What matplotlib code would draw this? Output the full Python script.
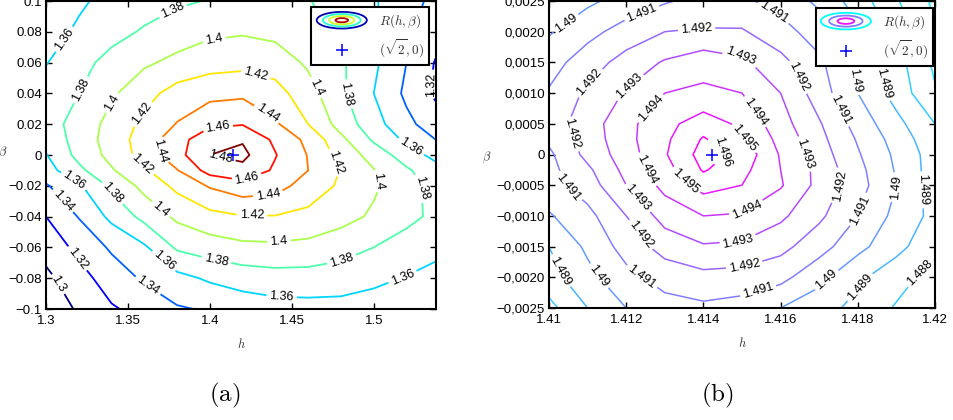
import matplotlib
matplotlib.use('Agg')
import matplotlib.pyplot as plt
import numpy as np
from matplotlib.colors import Normalize
from matplotlib.legend_handler import HandlerBase
from matplotlib.lines import Line2D
from matplotlib.patches import Ellipse

plt.rcParams['font.family'] = ['Liberation Sans', 'DejaVu Sans']
plt.rcParams['mathtext.fontset'] = 'cm'

# ---- panel (a): R(h, beta) on a coarse grid ----
h_a = [1.30, 1.32, 1.34, 1.36, 1.38, 1.40, 1.42, 1.44, 1.46, 1.48, 1.50, 1.52, 1.54]
beta_a = [0.10, 0.08, 0.06, 0.04, 0.02, 0.01, 0.0, -0.01, -0.02, -0.04, -0.06, -0.08, -0.10]
R_a = [
    [1.346, 1.357, 1.366, 1.372, 1.377, 1.381, 1.383, 1.383, 1.381, 1.372, 1.362, 1.348, 1.333],
    [1.352, 1.363, 1.374, 1.382, 1.390, 1.396, 1.398, 1.395, 1.387, 1.375, 1.362, 1.344, 1.326],
    [1.359, 1.374, 1.386, 1.397, 1.405, 1.412, 1.414, 1.410, 1.397, 1.383, 1.364, 1.340, 1.316],
    [1.368, 1.380, 1.397, 1.413, 1.428, 1.434, 1.436, 1.428, 1.408, 1.384, 1.360, 1.336, 1.314],
    [1.372, 1.387, 1.407, 1.425, 1.441, 1.456, 1.459, 1.443, 1.420, 1.392, 1.368, 1.345, 1.328],
    [1.366, 1.388, 1.409, 1.429, 1.452, 1.474, 1.478, 1.456, 1.435, 1.405, 1.377, 1.356, 1.338],
    [1.359, 1.386, 1.406, 1.428, 1.453, 1.480, 1.485, 1.461, 1.439, 1.413, 1.392, 1.370, 1.352],
    [1.352, 1.375, 1.398, 1.417, 1.439, 1.468, 1.474, 1.457, 1.440, 1.419, 1.401, 1.383, 1.366],
    [1.338, 1.357, 1.384, 1.406, 1.425, 1.442, 1.452, 1.448, 1.431, 1.417, 1.403, 1.387, 1.372],
    [1.320, 1.341, 1.365, 1.386, 1.404, 1.414, 1.419, 1.419, 1.415, 1.407, 1.397, 1.385, 1.375],
    [1.308, 1.325, 1.343, 1.357, 1.383, 1.390, 1.395, 1.396, 1.394, 1.388, 1.380, 1.372, 1.364],
    [1.295, 1.313, 1.329, 1.343, 1.354, 1.363, 1.369, 1.372, 1.372, 1.370, 1.364, 1.359, 1.354],
    [1.290, 1.302, 1.318, 1.326, 1.338, 1.342, 1.348, 1.352, 1.353, 1.353, 1.352, 1.350, 1.348],
]
levels_a = [1.30, 1.32, 1.34, 1.36, 1.38, 1.40, 1.42, 1.44, 1.46, 1.48]
xticks_a = [1.3, 1.35, 1.4, 1.45, 1.5]
xticklabels_a = ['1.3', '1.35', '1.4', '1.45', '1.5']
yticks_a = [-0.1, -0.08, -0.06, -0.04, -0.02, 0, 0.02, 0.04, 0.06, 0.08, 0.1]
yticklabels_a = ['\u22120.1', '\u22120.08', '\u22120.06', '\u22120.04', '\u22120.02', '0',
                 '0.02', '0.04', '0.06', '0.08', '0.1']

# ---- panel (b): zoom near the maximum ----
h_b = [1.410, 1.411, 1.412, 1.413, 1.414, 1.415, 1.416, 1.417, 1.418, 1.419, 1.420]
beta_b = [0.0025, 0.0020, 0.0015, 0.0010, 0.0005, 0.00025, 0.0, -0.00025,
          -0.0005, -0.0010, -0.0015, -0.0020, -0.0025]
R_b = [
    [1.4892, 1.4898, 1.4904, 1.4909, 1.4913, 1.4912, 1.4906, 1.4898, 1.4885, 1.4871, 1.4858],
    [1.4899, 1.4907, 1.4914, 1.4920, 1.4921, 1.4921, 1.4914, 1.4905, 1.4892, 1.4877, 1.4860],
    [1.4906, 1.4915, 1.4924, 1.4931, 1.4936, 1.4932, 1.4923, 1.4912, 1.4898, 1.4884, 1.4868],
    [1.4911, 1.4922, 1.4931, 1.4940, 1.4942, 1.4940, 1.4930, 1.4915, 1.4900, 1.4886, 1.4871],
    [1.4915, 1.4925, 1.4937, 1.4947, 1.4955, 1.4948, 1.4934, 1.4921, 1.4906, 1.4893, 1.4880],
    [1.4912, 1.4924, 1.4937, 1.4948, 1.4961, 1.4951, 1.4937, 1.4923, 1.4909, 1.4896, 1.4883],
    [1.4908, 1.4923, 1.4935, 1.4949, 1.4964, 1.4957, 1.4939, 1.4925, 1.4911, 1.4898, 1.4885],
    [1.4907, 1.4918, 1.4933, 1.4946, 1.4961, 1.4953, 1.4940, 1.4927, 1.4913, 1.4899, 1.4885],
    [1.4906, 1.4915, 1.4930, 1.4943, 1.4954, 1.4950, 1.4941, 1.4927, 1.4914, 1.4900, 1.4885],
    [1.4899, 1.4907, 1.4920, 1.4934, 1.4940, 1.4939, 1.4932, 1.4922, 1.4910, 1.4897, 1.4887],
    [1.4890, 1.4902, 1.4914, 1.4924, 1.4929, 1.4928, 1.4923, 1.4914, 1.4903, 1.4893, 1.4883],
    [1.4886, 1.4897, 1.4907, 1.4914, 1.4917, 1.4916, 1.4913, 1.4903, 1.4892, 1.4884, 1.4876],
    [1.4877, 1.4890, 1.4900, 1.4906, 1.4908, 1.4906, 1.4900, 1.4894, 1.4887, 1.4879, 1.4870],
]
levels_b = [1.486, 1.487, 1.488, 1.489, 1.490, 1.491, 1.492, 1.493, 1.494, 1.495, 1.496]
xticks_b = [1.41, 1.412, 1.414, 1.416, 1.418, 1.42]
xticklabels_b = ['1.41', '1.412', '1.414', '1.416', '1.418', '1.42']
yticks_b = [-0.0025, -0.002, -0.0015, -0.001, -0.0005, 0, 0.0005, 0.001, 0.0015, 0.002, 0.0025]
yticklabels_b = ['\u22120,0025', '\u22120,0020', '\u22120,0015', '\u22120,0010', '\u22120,0005', '0',
                 '0,0005', '0,0010', '0,0015', '0,0020', '0,0025']

# the marked point (sqrt 2, 0)
mark_h = [1.41421]
mark_beta = [0.0]

# where the contour labels sit (data coords)
labels_at_a = [(1.3768, 0.0948), (1.3116, 0.0748), (1.4030, 0.0723), (1.4274, 0.0497),
               (1.3207, 0.0426), (1.3390, 0.0348), (1.3591, 0.0265), (1.4348, 0.0265),
               (1.4049, 0.0174), (1.4659, 0.0445), (1.4835, 0.0394), (1.5341, 0.0458),
               (1.5220, 0.0039), (1.3683, 0.0026), (1.4061, -0.0039), (1.4762, -0.0052),
               (1.3591, -0.0058), (1.3177, -0.0155), (1.4226, -0.0155), (1.5037, -0.0168),
               (1.5293, -0.0213), (1.4354, -0.0232), (1.3421, -0.0232), (1.3104, -0.0297),
               (1.3695, -0.0361), (1.4256, -0.0381), (1.4415, -0.0510), (1.4793, -0.0652),
               (1.4043, -0.0665), (1.3177, -0.0684), (1.3707, -0.0703), (1.3085, -0.0832),
               (1.5177, -0.0794), (1.3616, -0.0858), (1.4439, -0.0890)]
labels_at_b = [(1.41049, 0.00209), (1.41244, 0.00225), (1.41383, 0.00201), (1.41570, 0.00219),
               (1.41495, 0.00153), (1.41114, 0.00112), (1.41202, 0.00115), (1.41642, 0.00125),
               (1.41262, 0.00076), (1.41528, 0.00067), (1.41785, 0.00120), (1.41865, 0.00115),
               (1.41749, 0.00071), (1.41062, 0.00034), (1.41495, 0.00023), (1.41451, 0.00006),
               (1.41668, 0.00002), (1.41347, -0.00047), (1.41249, -0.00026), (1.41049, -0.00054),
               (1.41749, -0.00050), (1.41902, -0.00054), (1.41955, -0.00058), (1.41223, -0.00075),
               (1.41513, -0.00091), (1.41806, -0.00091), (1.41490, -0.00140), (1.41218, -0.00140),
               (1.41503, -0.00175), (1.41036, -0.00188), (1.41124, -0.00200), (1.41228, -0.00209),
               (1.41539, -0.00216), (1.41720, -0.00205), (1.41806, -0.00216), (1.41961, -0.00193)]


class RingHandler(HandlerBase):
    """legend icon: a few nested ellipses like a contour plot"""
    def __init__(self, colors):
        super().__init__()
        self.colors = colors

    def create_artists(self, legend, orig_handle, xdescent, ydescent,
                       width, height, fontsize, trans):
        cx = width / 2 - xdescent
        cy = height / 2 - ydescent
        out = []
        n = len(self.colors)
        for i, c in enumerate(self.colors):
            f = 1 - i / n
            out.append(Ellipse((cx, cy), width * f, height * 1.8 * f, fill=False,
                               edgecolor=c, lw=1.3, transform=trans))
        return out


def panel(ax, hs, bs, R, levels, cmap, xt, xtl, yt, ytl, xlim, ylim,
          label_pos, ring_colors, anchor, lw):
    H, B = np.meshgrid(hs, bs)
    Z = np.array(R)
    norm = Normalize(vmin=levels[0], vmax=levels[-1])
    cs = ax.contour(H, B, Z, levels=levels, cmap=cmap, norm=norm, linewidths=lw)
    ax.clabel(cs, levels, manual=label_pos, inline=True, inline_spacing=3,
              fontsize=9, fmt='%g', colors='k')
    ax.plot(mark_h, mark_beta, '+', color='blue', ms=9, mew=1.1, zorder=5)

    ax.set_xlim(*xlim)
    ax.set_ylim(*ylim)
    ax.set_xticks(xt)
    ax.set_xticklabels(xtl)
    ax.set_yticks(yt)
    ax.set_yticklabels(ytl)
    ax.tick_params(direction='in', top=True, right=True, length=4, width=1,
                   labelsize=9.5, pad=4)
    ax.tick_params(axis='y', pad=3)
    for s in ax.spines.values():
        s.set_linewidth(1.5)

    ax.set_xlabel(r'$h$', fontsize=9, color='#333333')
    ax.set_ylabel(r'$\beta$', fontsize=9, color='#333333', rotation=0, va='center')

    proxy = Line2D([], [])
    plus = Line2D([], [], marker='+', color='blue', linestyle='none', ms=8, mew=1.1)
    leg = ax.legend([proxy, plus], [r'$R(h,\beta)$', r'$(\sqrt{2},0)$'],
                    handler_map={proxy: RingHandler(ring_colors)},
                    loc='upper right', bbox_to_anchor=anchor, borderaxespad=0,
                    fontsize=9.5, handlelength=3.8, handletextpad=0.9,
                    labelspacing=0.55, fancybox=False, framealpha=1)
    leg.get_frame().set_edgecolor('black')
    leg.get_frame().set_linewidth(1.5)
    for t in leg.get_texts():
        t.set_color('#333333')


fig = plt.figure(figsize=(9.54, 4.2), dpi=100)

ax_a = fig.add_axes([46 / 954, 1 - 309 / 420, 390 / 954, 308 / 420])
jet = plt.get_cmap('jet')
panel(ax_a, h_a, beta_a, R_a, levels_a, 'jet', xticks_a, xticklabels_a,
      yticks_a, yticklabels_a, (1.3, 1.538), (-0.1, 0.1), labels_at_a,
      [jet(0.05), jet(0.4), jet(0.6), jet(0.95)], (0.982, 0.98), 1.3)
ax_a.xaxis.set_label_coords(0.5, -0.09)
ax_a.yaxis.set_label_coords(-0.11, 0.51)

ax_b = fig.add_axes([549 / 954, 1 - 308 / 420, 386 / 954, 307 / 420])
cool = plt.get_cmap('cool')
panel(ax_b, h_b, beta_b, R_b, levels_b, 'cool', xticks_b, xticklabels_b,
      yticks_b, yticklabels_b, (1.41, 1.42), (-0.0025, 0.0025), labels_at_b,
      [cool(0.0), cool(0.5), cool(0.9)], (0.995, 0.977), 1.1)
ax_b.xaxis.set_label_coords(0.5, -0.09)
ax_b.yaxis.set_label_coords(-0.161, 0.49)

fig.text(225 / 954, 1 - 395 / 420, r'$\mathrm{(a)}$', fontsize=18, ha='center', va='center')
fig.text(717 / 954, 1 - 395 / 420, r'$\mathrm{(b)}$', fontsize=18, ha='center', va='center')

fig.savefig('out.png', dpi=100)
